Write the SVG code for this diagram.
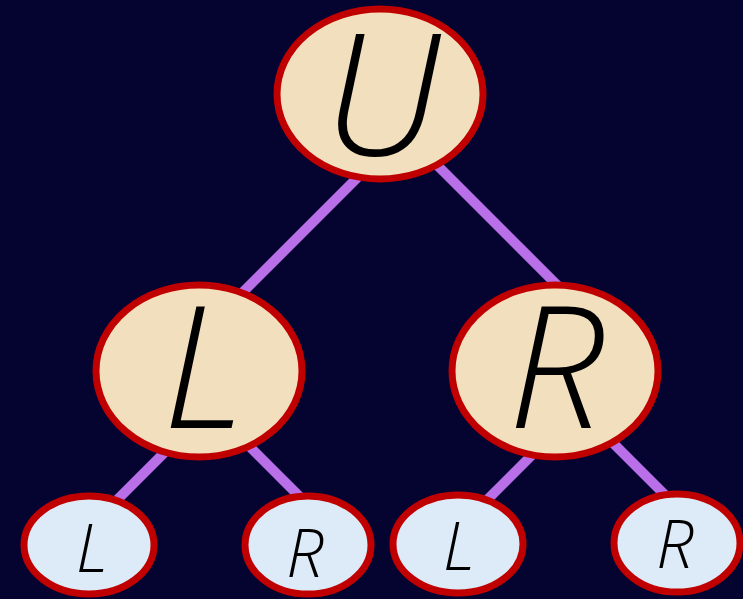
<svg xmlns="http://www.w3.org/2000/svg" width="743" height="599" viewBox="0 0 743 599">
<style>
.edge{stroke:#b86fe8;stroke-width:10;fill:none}
.big{fill:#f1dfbe;stroke:#c00000;stroke-width:7}
.small{fill:#dcebf7;stroke:#c00000;stroke-width:7}
.t{font-family:"Open Sans","DejaVu Sans",sans-serif;font-style:italic;font-weight:300;fill:#000;text-anchor:middle}
</style>
<rect width="743" height="599" fill="#05032f"/>
<g id="edges">
<line class="edge" x1="365" y1="170" x2="235" y2="300"/>
<line class="edge" x1="420" y1="148" x2="570" y2="298"/>
<line class="edge" x1="180" y1="437" x2="100" y2="517"/>
<line class="edge" x1="230" y1="427" x2="320" y2="517"/>
<line class="edge" x1="545" y1="442" x2="465" y2="522"/>
<line class="edge" x1="590" y1="420" x2="680" y2="510"/>
</g>
<g id="nU"><ellipse class="big" cx="380" cy="94" rx="103" ry="85"/><text class="t" x="382" y="155" font-size="170">U</text></g>
<g id="nL"><ellipse class="big" cx="199" cy="371" rx="103" ry="86"/><text class="t" x="204" y="428" font-size="170">L</text></g>
<g id="nR"><ellipse class="big" cx="555" cy="371" rx="103" ry="86"/><text class="t" x="556" y="428" font-size="170">R</text></g>
<g id="nLL"><ellipse class="small" cx="89" cy="545" rx="65" ry="49"/><text class="t" x="92" y="572" font-size="66">L</text></g>
<g id="nLR"><ellipse class="small" cx="308" cy="545" rx="63" ry="49"/><text class="t" x="305" y="577" font-size="66">R</text></g>
<g id="nRL"><ellipse class="small" cx="458" cy="544" rx="65" ry="49"/><text class="t" x="459" y="570" font-size="66">L</text></g>
<g id="nRR"><ellipse class="small" cx="677" cy="543" rx="63" ry="49"/><text class="t" x="675" y="568" font-size="66">R</text></g>
</svg>
